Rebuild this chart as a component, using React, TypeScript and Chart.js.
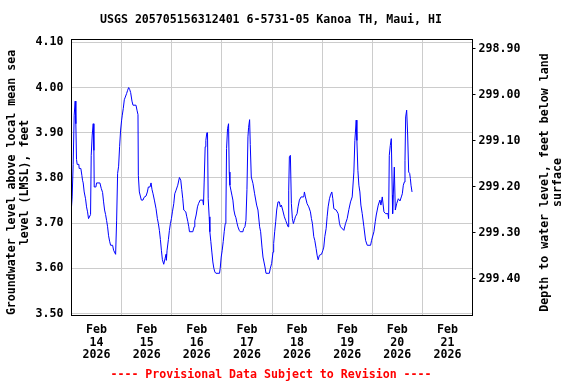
import React, { useEffect, useRef } from "react";
import { Chart, registerables } from "chart.js";

Chart.register(...registerables);

const TITLE = "USGS 205705156312401 6-5731-05 Kanoa TH, Maui, HI";
const LEFT_TITLE = ["Groundwater level above local mean sea", "level (LMSL), feet"];
const RIGHT_TITLE = ["Depth to water level, feet below land", "surface"];
const FOOTER = "---- Provisional Data Subject to Revision ----";

const MONTH = "Feb";
const YEAR = "2026";
const DAY_LABELS = ["14", "15", "16", "17", "18", "19", "20", "21"];

// hours since Feb 14 2026 00:00
const HOURS = [
  0, 0.32, 0.8, 1.28, 1.76, 2.08, 2.4, 2.72, 3.52, 3.68, 4.48, 4.96, 5.28, 5.6, 6.08, 6.72, 7.2, 7.68, 8.16, 9.12,
  9.44, 9.92, 10.4, 10.72, 10.88, 11.68, 12, 13.6, 14.24, 14.88, 15.36, 15.84, 16.32, 16.8, 17.28, 17.76, 18.24, 18.72, 19.68, 20.16,
  21.12, 21.6, 22.08, 22.56, 23.04, 23.52, 24, 24.32, 24.8, 25.28, 25.76, 26.4, 26.88, 27.36, 27.84, 28.32, 28.96, 29.44, 30.88, 31.36,
  31.84, 32, 32.48, 32.96, 33.44, 34.24, 34.72, 35.68, 36.32, 36.8, 37.6, 38.08, 38.56, 39.04, 39.68, 40.48, 41.12, 41.6, 42.08, 42.56,
  43.04, 43.52, 44.16, 44.8, 45.28, 45.44, 45.76, 46.4, 46.88, 47.36, 47.84, 48.32, 48.96, 49.44, 50.08, 50.88, 51.68, 52.32, 52.8, 53.28,
  53.76, 54.72, 55.2, 55.68, 56.16, 56.48, 58.08, 58.72, 59.04, 59.68, 60.32, 60.8, 61.6, 62.88, 63.2, 63.52, 64, 64.32, 64.8, 65.12,
  65.44, 65.92, 66.24, 66.72, 67.2, 67.68, 68.16, 68.64, 69.12, 70.88, 71.2, 71.68, 72.16, 72.64, 73.12, 73.6, 73.92, 74.24, 74.72, 75.2,
  75.52, 75.84, 76.32, 76.8, 77.28, 77.76, 78.24, 78.72, 79.2, 79.68, 80.32, 80.8, 82.08, 82.4, 83.04, 83.52, 84, 84.48, 84.8, 85.28,
  85.6, 86.08, 86.88, 87.68, 88.64, 89.28, 90.08, 90.56, 91.2, 91.68, 92.16, 92.64, 93.12, 94.72, 95.2, 95.84, 96.48, 96.8, 97.28, 97.76,
  98.24, 98.88, 99.52, 100.0, 100.48, 101.12, 101.92, 102.56, 103.68, 104.0, 104.32, 104.8, 105.28, 105.76, 106.24, 106.72, 107.2, 108.0, 108.48, 109.12,
  109.92, 111.2, 111.52, 112.0, 112.8, 113.6, 114.4, 114.88, 115.36, 116.0, 116.48, 117.12, 117.6, 118.08, 118.72, 119.68, 120.32, 120.8, 121.28, 121.92,
  122.4, 122.88, 123.52, 124.0, 124.64, 125.12, 125.6, 126.72, 127.68, 128.32, 128.8, 130.4, 131.2, 132.0, 132.8, 133.6, 134.4, 135.2, 135.68, 136.32,
  136.64, 137.12, 137.6, 138.08, 138.56, 139.2, 140.0, 140.8, 141.6, 143.2, 143.68, 144.8, 145.44, 145.92, 146.4, 146.88, 147.68, 148.16, 148.8, 149.6,
  150.4, 151.52, 151.84, 152.16, 152.64, 153.12, 153.6, 153.76, 154.56, 155.04, 155.68, 156.48, 157.28, 157.92, 158.4, 158.88, 159.36, 159.68, 160.0, 160.48,
  160.96, 161.44, 161.92, 162.24, 162.56, 163.04,
];

// groundwater level above LMSL, feet
const LEVELS = [
  3.736, 3.758, 3.83, 3.939, 3.97, 3.92, 3.841, 3.83, 3.83, 3.821, 3.821, 3.806, 3.795, 3.789, 3.769, 3.754, 3.736, 3.725, 3.71, 3.719,
  3.85, 3.895, 3.92, 3.861, 3.78, 3.78, 3.789, 3.789, 3.777, 3.768, 3.747, 3.729, 3.719, 3.706, 3.692, 3.672, 3.66, 3.651, 3.651, 3.64,
  3.631, 3.705, 3.81, 3.826, 3.87, 3.906, 3.928, 3.939, 3.954, 3.973, 3.979, 3.987, 3.994, 4.0, 3.996, 3.989, 3.97, 3.961, 3.961, 3.95,
  3.94, 3.806, 3.769, 3.76, 3.751, 3.751, 3.757, 3.76, 3.769, 3.78, 3.78, 3.789, 3.774, 3.765, 3.751, 3.732, 3.71, 3.699, 3.684, 3.664,
  3.64, 3.619, 3.609, 3.622, 3.631, 3.618, 3.64, 3.664, 3.684, 3.699, 3.71, 3.725, 3.743, 3.765, 3.773, 3.784, 3.801, 3.795, 3.774, 3.754,
  3.729, 3.725, 3.714, 3.704, 3.692, 3.681, 3.681, 3.692, 3.705, 3.718, 3.736, 3.743, 3.751, 3.751, 3.74, 3.791, 3.869, 3.883, 3.9, 3.9,
  3.754, 3.714, 3.681, 3.659, 3.636, 3.614, 3.6, 3.592, 3.589, 3.589, 3.6, 3.625, 3.64, 3.659, 3.681, 3.699, 3.718, 3.865, 3.909, 3.92,
  3.813, 3.784, 3.773, 3.762, 3.751, 3.729, 3.718, 3.712, 3.701, 3.692, 3.684, 3.681, 3.681, 3.688, 3.692, 3.706, 3.774, 3.891, 3.912, 3.929,
  3.874, 3.802, 3.788, 3.765, 3.74, 3.729, 3.692, 3.681, 3.647, 3.625, 3.614, 3.603, 3.589, 3.589, 3.6, 3.611, 3.636, 3.655, 3.681, 3.703,
  3.729, 3.747, 3.747, 3.736, 3.74, 3.729, 3.714, 3.706, 3.692, 3.773, 3.847, 3.85, 3.743, 3.71, 3.699, 3.706, 3.714, 3.721, 3.736, 3.751,
  3.758, 3.758, 3.769, 3.758, 3.743, 3.736, 3.725, 3.71, 3.699, 3.67, 3.662, 3.644, 3.629, 3.619, 3.629, 3.631, 3.639, 3.647, 3.67, 3.688,
  3.714, 3.736, 3.754, 3.762, 3.769, 3.754, 3.732, 3.729, 3.721, 3.699, 3.692, 3.684, 3.699, 3.71, 3.73, 3.747, 3.758, 3.813, 3.883, 3.928,
  3.883, 3.817, 3.784, 3.769, 3.74, 3.721, 3.692, 3.662, 3.651, 3.651, 3.662, 3.681, 3.703, 3.718, 3.729, 3.74, 3.751, 3.74, 3.758, 3.725,
  3.721, 3.721, 3.71, 3.85, 3.872, 3.887, 3.762, 3.721, 3.824, 3.729, 3.743, 3.754, 3.749, 3.758, 3.765, 3.784, 3.791, 3.839, 3.935, 3.95,
  3.895, 3.813, 3.81, 3.799, 3.784, 3.769,
];

const LEVEL_TICKS = [3.5, 3.6, 3.7, 3.8, 3.9, 4.0, 4.1];
const DEPTH_TICKS = [298.9, 299.0, 299.1, 299.2, 299.3, 299.4];
const LEVEL_MIN = 3.4956;
const LEVEL_MAX = 4.1064;
const DEPTH_MIN = 298.8804;
const DEPTH_MAX = 299.4804;
const HOUR_MIN = 0;
const HOUR_MAX = 192;

const FAMILY = '"DejaVu Sans Mono", "Liberation Mono", monospace';
const FONT = { family: FAMILY, size: 11.6, weight: "bold" as const, lineHeight: 1.1 };

const overlay = {
  id: "overlay",
  afterDraw(chart: any) {
    const { ctx, chartArea: a } = chart;
    ctx.save();
    ctx.strokeStyle = "#000000";
    ctx.lineWidth = 1;
    ctx.strokeRect(a.left, a.top, a.right - a.left, a.bottom - a.top);
    ctx.font = `bold 11.6px ${FAMILY}`;
    ctx.fillStyle = "#000000";
    ctx.textAlign = "center";
    ctx.textBaseline = "middle";
    ctx.fillText(TITLE, 271, 20);
    ctx.fillStyle = "#ff0000";
    ctx.fillText(FOOTER, 271, 375);
    ctx.fillStyle = "#000000";
    ctx.textBaseline = "alphabetic";
    const leftX = [15, 28];
    LEFT_TITLE.forEach((t, i) => {
      ctx.save();
      ctx.translate(leftX[i], 182.5);
      ctx.rotate(-Math.PI / 2);
      ctx.fillText(t, 0, 0);
      ctx.restore();
    });
    const rightX = [548, 561];
    RIGHT_TITLE.forEach((t, i) => {
      ctx.save();
      ctx.translate(rightX[i], 182.5);
      ctx.rotate(-Math.PI / 2);
      ctx.fillText(t, 0, 0);
      ctx.restore();
    });
    ctx.restore();
  },
};

export default function App() {
  const ref = useRef<HTMLCanvasElement | null>(null);
  useEffect(() => {
    if (!ref.current) return;
    const chart = new Chart(ref.current, {
      type: "line",
      data: {
        datasets: [
          {
            data: HOURS.map((h, i) => ({ x: h, y: LEVELS[i] })),
            borderColor: "#0000ff",
            borderWidth: 1,
            pointRadius: 0,
            fill: false,
            tension: 0,
            xAxisID: "x",
            yAxisID: "y",
          },
        ],
      },
      options: {
        animation: false,
        responsive: false,
        devicePixelRatio: 1,
        layout: { padding: { top: 39.5, left: 0, right: 0, bottom: 0 } },
        plugins: { legend: { display: false }, tooltip: { enabled: false }, title: { display: false } },
        scales: {
          x: {
            type: "linear",
            position: "bottom",
            min: HOUR_MIN,
            max: HOUR_MAX,
            afterBuildTicks: (s: any) => {
              const t = [];
              for (let h = HOUR_MIN; h <= HOUR_MAX; h += 12) t.push({ value: h });
              s.ticks = t;
            },
            afterFit: (s: any) => {
              s.height = 68.5;
            },
            ticks: {
              autoSkip: false,
              maxRotation: 0,
              minRotation: 0,
              padding: 8,
              color: "#000000",
              font: FONT,
              callback: (v: any) => {
                const n = Number(v);
                if (n % 24 === 12) return [MONTH, DAY_LABELS[(n - 12) / 24], YEAR];
                return "";
              },
            },
            grid: {
              drawTicks: false,
              lineWidth: 1,
              color: (c: any) => (c.tick && Number(c.tick.value) % 24 === 0 ? "#cccccc" : "rgba(0,0,0,0)"),
            },
            border: { display: true, color: "#000000" },
          },
          y: {
            type: "linear",
            position: "left",
            min: LEVEL_MIN,
            max: LEVEL_MAX,
            afterBuildTicks: (s: any) => {
              s.ticks = LEVEL_TICKS.map((v) => ({ value: v }));
            },
            afterFit: (s: any) => {
              s.width = 71.5;
            },
            ticks: {
              padding: 8,
              color: "#000000",
              font: FONT,
              callback: (v: any) => Number(v).toFixed(2),
            },
            grid: { drawTicks: false, color: "#cccccc", lineWidth: 1 },
            border: { display: true, color: "#000000" },
          },
          yR: {
            type: "linear",
            position: "right",
            reverse: true,
            min: DEPTH_MIN,
            max: DEPTH_MAX,
            afterBuildTicks: (s: any) => {
              s.ticks = DEPTH_TICKS.map((v) => ({ value: v }));
            },
            afterFit: (s: any) => {
              s.width = 103.5;
            },
            ticks: {
              padding: 3,
              color: "#000000",
              font: FONT,
              callback: (v: any) => Number(v).toFixed(2),
            },
            grid: { drawOnChartArea: false, drawTicks: true, tickLength: 3, color: "#000000", lineWidth: 1 },
            border: { display: true, color: "#000000" },
          },
        },
      },
      plugins: [overlay],
    });
    return () => chart.destroy();
  }, []);
  return (
    <div style={{ position: "fixed", left: 0, top: 0, width: 576, height: 384, background: "#ffffff" }}>
      <canvas ref={ref} width={576} height={384} style={{ display: "block", width: 576, height: 384 }} />
    </div>
  );
}
